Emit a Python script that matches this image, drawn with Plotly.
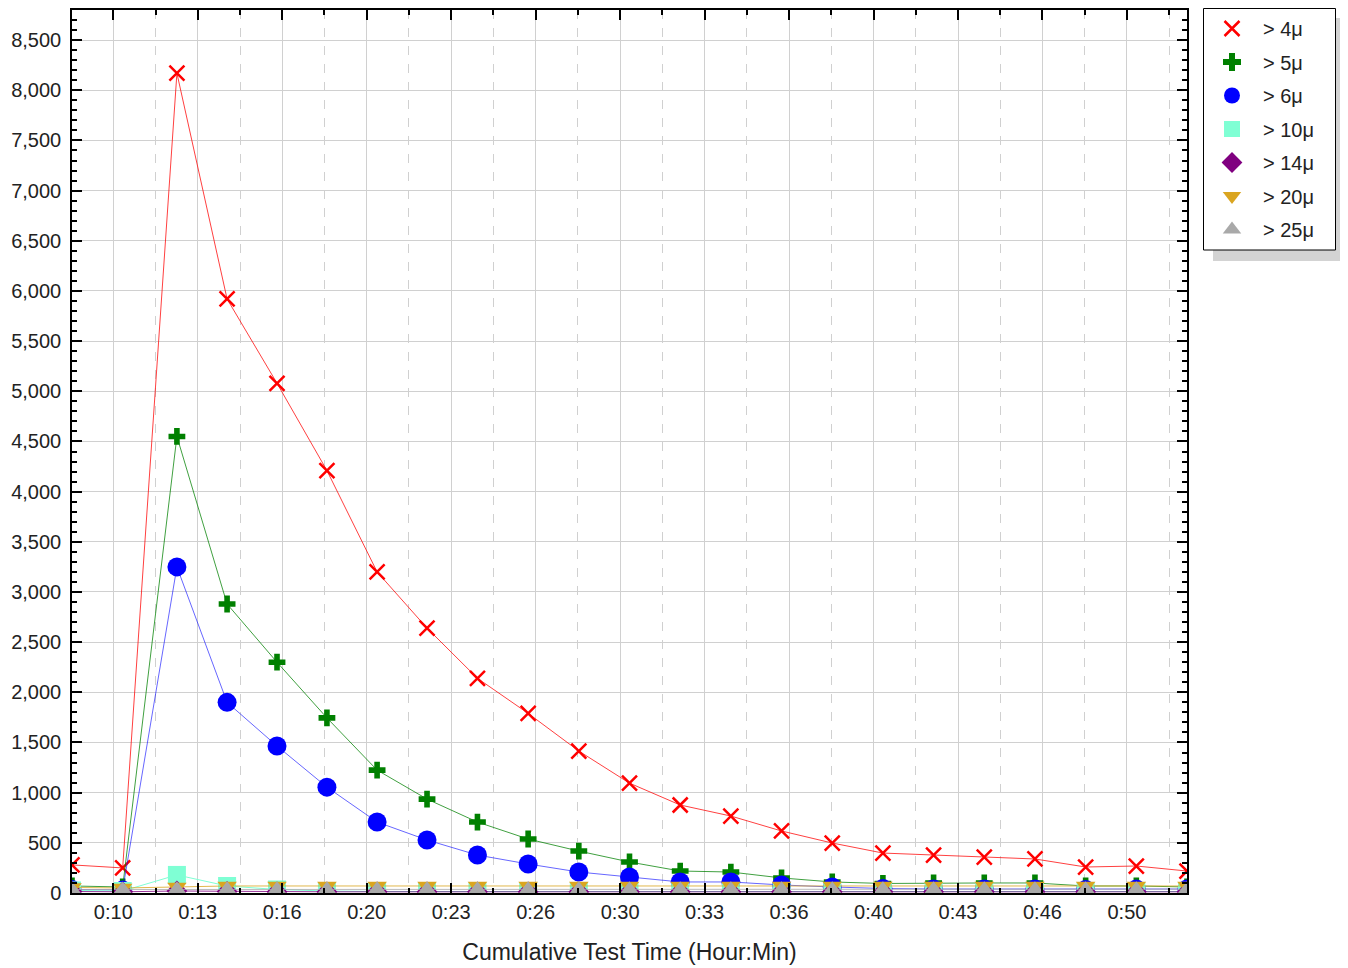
import numpy as np
import plotly.graph_objects as go

# Time of each sample, minutes
times = [8.37, 10.37, 12.51, 14.49, 16.46, 18.43, 20.41, 22.38, 24.37, 26.37, 28.37, 30.37,
         32.37, 34.37, 36.37, 38.37, 40.37, 42.37, 44.37, 46.37, 48.37, 50.37, 52.37]

gt4 = [280, 250, 8170, 5920, 5080, 4210, 3200, 2640, 2140, 1790, 1415, 1095,
       877, 767, 618, 498, 398, 378, 358, 339, 259, 269, 219]
gt5 = [70, 60, 4550, 2880, 2300, 1745, 1225, 936, 707, 538, 418, 309,
       219, 209, 150, 110, 95, 100, 100, 100, 70, 70, 60]
gt6 = [35, 30, 3250, 1900, 1465, 1055, 707, 528, 378, 289, 209, 160,
       110, 110, 80, 60, 45, 40, 40, 40, 35, 40, 40]
gt10 = [25, 20, 180, 70, 35, 20, 15, 15, 15, 15, 15, 15,
        15, 15, 15, 15, 15, 15, 15, 15, 15, 15, 15]
gt14 = [15, 12, 20, 15, 12, 12, 12, 12, 12, 12, 12, 12, 12, 12, 12, 12, 12, 12, 12, 12, 12, 12, 12]
gt20 = [55, 50, 60, 70, 70, 70, 70, 70, 70, 70, 70, 70, 70, 70, 70, 70, 70, 70, 70, 70, 70, 70, 70]
gt25 = [35, 35, 38, 38, 38, 38, 38, 38, 38, 38, 38, 38, 38, 38, 38, 38, 38, 38, 38, 38, 38, 38, 38]

series_names = ["> 4μ", "> 5μ", "> 6μ", "> 10μ", "> 14μ", "> 20μ", "> 25μ"]
x_tick_labels = ["0:10", "0:13", "0:16", "0:20", "0:23", "0:26", "0:30",
                 "0:33", "0:36", "0:40", "0:43", "0:46", "0:50"]

series_values = [gt4, gt5, gt6, gt10, gt14, gt20, gt25]
colors = ["#ff0000", "#008000", "#0000ff", "#7fffd4", "#800080", "#daa520", "#a9a9a9"]
line_colors = ["rgba(255,0,0,0.75)", "rgba(0,128,0,0.75)", "rgba(0,0,255,0.6)",
               "rgba(127,255,212,1)", "rgba(128,0,128,0.8)", "rgba(218,165,32,0.8)",
               "rgba(169,169,169,0.8)"]
symbols = ["x-thin", "cross", "circle", "square", "diamond", "triangle-down", "triangle-up"]
sizes = [15, 14, 19, 18, 16, 17, 16]
legend_sizes = [15, 15, 18, 18, 16, 18, 18]

fig = go.Figure()
for i, (name, vals, c, lc, sym, sz, lsz) in enumerate(zip(series_names, series_values, colors,
                                                           line_colors, symbols, sizes, legend_sizes)):
    marker = dict(symbol=sym, size=sz, color=c)
    if sym == "x-thin":
        marker["line"] = dict(color=c, width=2.5)
    else:
        marker["line"] = dict(width=0)
    fig.add_trace(go.Scatter(x=times, y=vals, name=name, mode="lines+markers",
                             line=dict(color=lc, width=1), marker=marker,
                             showlegend=False, legendgroup=f"g{i}"))
    # marker-only legend entry
    lm = dict(marker)
    lm["size"] = lsz
    fig.add_trace(go.Scatter(x=[None], y=[None], name=name, mode="markers",
                             marker=lm, showlegend=True, legendgroup=f"g{i}"))

tickvals = list(np.arange(10, 50.01, 10 / 3))
minor_vals = [tickvals[0] - 5 / 3] + [v + 5 / 3 for v in tickvals]

W, H = 1340, 960
L, R, T, B = 64, 1340 - 1179, 2, 960 - 885
PW, PH = 1179 - 64, 885 - 2


def px_x(x):
    return (x - L) / PW


def px_y(y):
    return (885 - y) / PH


fig.update_layout(
    width=W, height=H,
    margin=dict(l=L, r=R, t=T, b=B, autoexpand=False),
    plot_bgcolor="white", paper_bgcolor="white",
    font=dict(family="Liberation Sans, Arial, sans-serif", color="#222222", size=20),
    showlegend=True,
    legend=dict(x=px_x(1193), y=px_y(1), xanchor="left", yanchor="top",
                borderwidth=0, bgcolor="rgba(0,0,0,0)",
                font=dict(size=20, color="#222222"), itemsizing="trace",
                tracegroupgap=4.5, itemwidth=52),
    xaxis=dict(range=[times[0], times[-1]], tickvals=tickvals, ticktext=x_tick_labels,
               showgrid=True, gridcolor="#d0d0d0", gridwidth=1,
               ticks="inside", ticklen=10, tickcolor="black", tickwidth=1.5,
               showline=True, linecolor="black", linewidth=1.5, mirror="allticks",
               zeroline=False,
               minor=dict(tickvals=minor_vals,
                          ticks="inside", ticklen=5, tickcolor="black",
                          showgrid=True, gridcolor="#d0d0d0", griddash="dash", gridwidth=1),
               title=dict(text="Cumulative Test Time (Hour:Min)", font=dict(size=23), standoff=22)),
    yaxis=dict(range=[0, 8800], dtick=500, tickformat=",",
               showgrid=True, gridcolor="#d0d0d0", gridwidth=1,
               ticks="inside", ticklen=10, tickcolor="black", tickwidth=1.5,
               showline=True, linecolor="black", linewidth=1.5, mirror="allticks",
               zeroline=False, ticklabelstandoff=5,
               minor=dict(dtick=100, ticks="inside", ticklen=5, tickcolor="black", showgrid=False)),
    shapes=[
        dict(type="rect", xref="paper", yref="paper",
             x0=px_x(1205), x1=px_x(1338), y0=px_y(253), y1=px_y(10),
             fillcolor="#d3d3d3", line=dict(width=0), layer="below"),
        dict(type="rect", xref="paper", yref="paper",
             x0=px_x(1195.5), x1=px_x(1327.5), y0=px_y(242), y1=px_y(0.5),
             fillcolor="white", line=dict(width=1, color="black"), layer="below"),
    ],
)

fig.write_html("out.html")
